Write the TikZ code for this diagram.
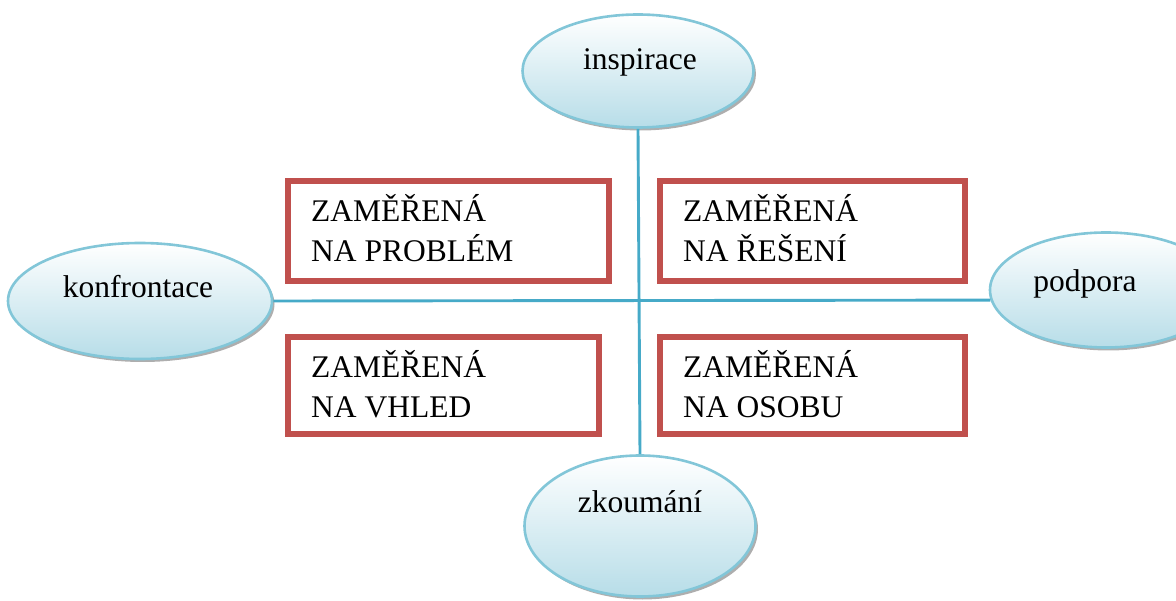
\documentclass[tikz,border=0pt]{standalone}
\usepackage{fontspec}
\setmainfont{Liberation Serif}
\usetikzlibrary{shapes.geometric,shadows}
\definecolor{boxred}{RGB}{192,80,77}
\definecolor{linkblue}{RGB}{70,170,200}
\definecolor{ellborder}{RGB}{130,198,216}
\definecolor{ellfill}{RGB}{183,221,232}
\tikzset{
  bubble/.style={ellipse, draw=ellborder, line width=2.6pt, top color=white, bottom color=ellfill,
    drop shadow={shadow xshift=2.5pt, shadow yshift=-3pt, fill=black!45, opacity=0.7}, inner sep=0pt},
  bubtext/.style={anchor=base, font=\fontsize{31.5}{40}\selectfont, inner sep=0pt},
  qbox/.style={draw=boxred, line width=6pt, rectangle, inner sep=0pt},
  qtext/.style={anchor=base west, align=left, font=\fontsize{31.5}{40}\selectfont, inner sep=0pt},
  link/.style={draw=linkblue, line width=2.9pt}
}
\begin{document}
\begin{tikzpicture}[x=1pt,y=-1pt]
\useasboundingbox (0,0) rectangle (1176,601);
% ellipses
\node[bubble, minimum width=231pt, minimum height=113pt] (insp) at (638,71) {};
\node[bubble, minimum width=264pt, minimum height=116pt] (konf) at (140,301) {};
\node[bubble, minimum width=232pt, minimum height=115pt] (podp) at (1106,290) {};
\node[bubble, minimum width=231pt, minimum height=141pt] (zkou) at (640,526) {};
% connectors
\draw[link] (insp.south) -- (zkou.north);
\draw[link] (konf.east) -- (podp.185);
% labels in ellipses
\node[bubtext] (tinsp) at (640,70) {inspirace};
\node[bubtext] (tkonf) at (138,298) {konfrontace};
\node[bubtext] (tpodp) at (1085,292) {podpora};
\node[bubtext] (tzkou) at (640,512) {zkoumání};
% boxes
\node[qbox, minimum width=321pt, minimum height=100pt] (b1) at (448.5,231) {};
\node[qbox, minimum width=305pt, minimum height=100pt] (b2) at (812.5,231) {};
\node[qbox, minimum width=311pt, minimum height=97pt] (b3) at (443.5,385.5) {};
\node[qbox, minimum width=305pt, minimum height=97pt] (b4) at (812.5,385.5) {};
\node[qtext] (t1) at (311,262) {ZAMĚŘENÁ\\NA PROBLÉM};
\node[qtext] (t2) at (683,262) {ZAMĚŘENÁ\\NA ŘEŠENÍ};
\node[qtext] (t3) at (311,418) {ZAMĚŘENÁ\\NA VHLED};
\node[qtext] (t4) at (683,418) {ZAMĚŘENÁ\\NA OSOBU};
\end{tikzpicture}
\end{document}
